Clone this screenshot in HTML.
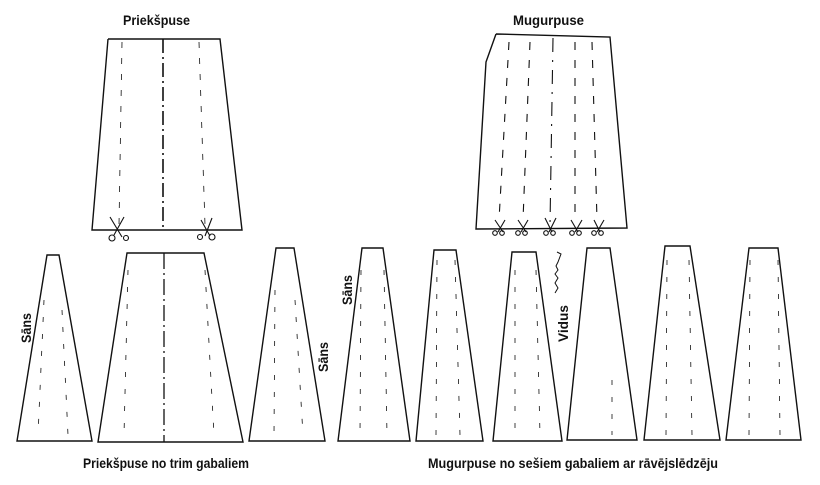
<!DOCTYPE html>
<html><head><meta charset="utf-8"><style>
html,body{margin:0;padding:0;background:#fff;width:820px;height:485px;overflow:hidden}
svg text{font-family:"Liberation Sans",sans-serif;font-weight:bold;fill:#111}
</style></head><body>
<svg width="820" height="485" viewBox="0 0 820 485" xmlns="http://www.w3.org/2000/svg">
<g fill="none" stroke="#111" stroke-width="1.4">
<polyline points="108,39 220,39 242,230 92,230 108,39"/>
<line x1="163" y1="39" x2="163" y2="230" stroke-width="1.6" stroke-dasharray="14,4,2,4"/>
<line x1="122" y1="42" x2="119" y2="225" stroke-width="0.8" stroke-dasharray="6,10"/>
<line x1="199" y1="42" x2="205" y2="225" stroke-width="0.8" stroke-dasharray="6,10"/>
<polyline points="496,34 610,37 627,228 476,229 486,62 496,34"/>
<g stroke-dasharray="8,10" stroke-width="1.1">
<line x1="509" y1="42" x2="499" y2="220"/>
<line x1="530" y1="42" x2="523" y2="220"/>
<line x1="553" y1="38" x2="550" y2="225" stroke-dasharray="14,8,2,8"/>
<line x1="575" y1="42" x2="575" y2="220"/>
<line x1="592" y1="42" x2="597" y2="220"/>
</g>
<g stroke-width="1.1">
<path d="M110,217 L122,237 M124,217 L114,235"/><circle cx="112" cy="238" r="3"/><circle cx="126" cy="238" r="2.5"/>
<path d="M201,220 L210,236 M212,218 L205,236"/><circle cx="200" cy="237" r="2.5"/><circle cx="212" cy="237" r="3"/>
<path d="M495,220 L503,232 M505,220 L498,232"/><circle cx="495" cy="233" r="2.3"/><circle cx="502" cy="233" r="2.3"/>
<path d="M518,220 L526,232 M528,220 L521,232"/><circle cx="518" cy="233" r="2.3"/><circle cx="525" cy="233" r="2.3"/>
<path d="M545,218 L552,232 M556,218 L549,232"/><circle cx="546" cy="233" r="2.3"/><circle cx="553" cy="233" r="2.3"/>
<path d="M571,220 L578,232 M582,220 L575,232"/><circle cx="572" cy="233" r="2.3"/><circle cx="579" cy="233" r="2.3"/>
<path d="M594,220 L600,232 M604,220 L597,232"/><circle cx="594" cy="233" r="2.3"/><circle cx="601" cy="233" r="2.3"/>
</g>
<polygon points="47,255 59,255 92,441 17,441"/>
<polygon points="127,253 204,253 243,442 98,442"/>
<polygon points="276,248 294,248 325,441 249,441"/>
<polygon points="362,248 383,248 410,441 338,441"/>
<polygon points="434,250 456,250 483,441 416,441"/>
<polygon points="512,252 536,252 562,441 493,441"/>
<polygon points="587,248 610,248 637,440 567,440"/>
<polygon points="665,246 690,246 720,440 644,440"/>
<polygon points="749,248 778,248 801,440 726,440"/>
<line x1="164" y1="253" x2="164" y2="442" stroke-width="1.3" stroke-dasharray="16,4,2,4"/>
<g stroke-width="0.8" stroke-dasharray="5,12">
<line x1="44" y1="300" x2="38" y2="435"/><line x1="62" y1="310" x2="68" y2="435"/>
<line x1="128" y1="270" x2="124" y2="435"/><line x1="205" y1="270" x2="214" y2="435"/>
<line x1="275" y1="290" x2="274" y2="435"/><line x1="295" y1="300" x2="303" y2="435"/>
<line x1="361" y1="270" x2="360" y2="435"/><line x1="384" y1="270" x2="387" y2="435"/>
<line x1="437" y1="260" x2="436" y2="435"/><line x1="455" y1="260" x2="460" y2="435"/>
<line x1="515" y1="270" x2="515" y2="435"/><line x1="536" y1="270" x2="540" y2="435"/>
<line x1="612" y1="380" x2="612" y2="435"/>
<line x1="667" y1="260" x2="666" y2="435"/><line x1="689" y1="260" x2="692" y2="435"/>
<line x1="750" y1="260" x2="749" y2="435"/><line x1="778" y1="260" x2="780" y2="435"/>
</g>
<path d="M557,252 L561,254 L558,262 L556,266 L558,270 L555,274 L558,278 L555,283 L558,288 L555,293" stroke-width="1"/>
</g>
<text x="123" y="25" font-size="14" textLength="67" lengthAdjust="spacingAndGlyphs">Priekšpuse</text>
<text x="513" y="25" font-size="14" textLength="71" lengthAdjust="spacingAndGlyphs">Mugurpuse</text>
<text font-size="14" transform="translate(31,343) rotate(-90)" textLength="30" lengthAdjust="spacingAndGlyphs">Sāns</text>
<text font-size="14" transform="translate(328,372) rotate(-90)" textLength="30" lengthAdjust="spacingAndGlyphs">Sāns</text>
<text font-size="14" transform="translate(352,305) rotate(-90)" textLength="30" lengthAdjust="spacingAndGlyphs">Sāns</text>
<text font-size="14" transform="translate(568,342) rotate(-90)" textLength="37" lengthAdjust="spacingAndGlyphs">Vidus</text>
<text x="83" y="468" font-size="14" textLength="166" lengthAdjust="spacingAndGlyphs">Priekšpuse no trim gabaliem</text>
<text x="428" y="468" font-size="14" textLength="290" lengthAdjust="spacingAndGlyphs">Mugurpuse no sešiem gabaliem ar rāvējslēdzēju</text>
</svg>
</body></html>
